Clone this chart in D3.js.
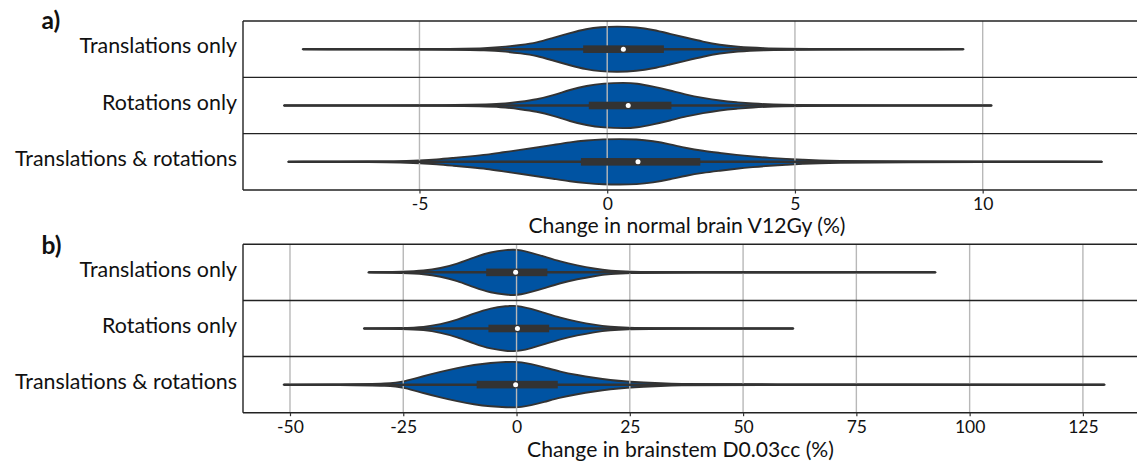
<!DOCTYPE html>
<html><head><meta charset="utf-8">
<script src="https://cdn.jsdelivr.net/npm/d3@7"></script>
<style>body{margin:0;background:#fff} svg{display:block}</style>
</head><body>
<svg id="c" width="1137" height="464"></svg>
<script>
// ---------- DATA ----------
const categories = ["Translations only", "Rotations only", "Translations & rotations"];

// Panel a) change in normal brain V12Gy (%)
const brainTicks = [-5, 0, 5, 10];
const brainTickLabels = ["-5", "0", "5", "10"];
const brainMin = [-8.11, -8.61, -8.50];
const brainQ1 = [-0.64, -0.49, -0.70];
const brainMedian = [0.43, 0.56, 0.82];
const brainQ3 = [1.51, 1.71, 2.48];
const brainMax = [9.49, 10.24, 13.18];
// kernel-density outlines (value, relative density)
const brainTransPos = [-8.11, -4.18, -3.21, -2.68, -2.32, -1.88, -1.44, -0.99, -0.55, -0.19, 0.28, 0.78, 1.22, 1.67, 2.11, 2.55, 3.00, 3.44, 4.14, 5.10, 9.49];
const brainTransDens = [0, 0.01, 0.04, 0.11, 0.18, 0.28, 0.50, 0.71, 0.89, 0.97, 1.00, 0.96, 0.85, 0.67, 0.50, 0.33, 0.18, 0.10, 0.04, 0.01, 0];
const brainRotPos = [-8.61, -3.65, -2.77, -2.32, -1.88, -1.44, -0.99, -0.55, -0.11, 0.47, 0.78, 1.22, 1.67, 2.11, 2.55, 3.00, 3.44, 3.88, 4.33, 5.39, 10.24];
const brainRotDens = [0, 0.01, 0.07, 0.16, 0.26, 0.44, 0.69, 0.87, 0.97, 1.00, 0.97, 0.83, 0.66, 0.47, 0.33, 0.21, 0.14, 0.09, 0.04, 0.01, 0];
const brainBothPos = [-8.50, -6.05, -5.51, -4.98, -4.54, -4.10, -3.65, -3.21, -2.77, -2.32, -1.88, -1.44, -0.99, -0.55, -0.11, 0.34, 0.78, 1.22, 1.67, 2.11, 2.55, 3.00, 3.44, 3.88, 4.33, 4.77, 5.21, 5.65, 6.10, 7.25, 13.18];
const brainBothDens = [0, 0.01, 0.03, 0.06, 0.10, 0.17, 0.24, 0.31, 0.42, 0.52, 0.63, 0.74, 0.86, 0.94, 0.99, 1.00, 0.99, 0.91, 0.77, 0.60, 0.48, 0.39, 0.30, 0.23, 0.17, 0.13, 0.09, 0.06, 0.04, 0.015, 0];

// Panel b) change in brainstem D0.03cc (%)
const stemTicks = [-50, -25, 0, 25, 50, 75, 100, 125];
const stemTickLabels = ["-50", "-25", "0", "25", "50", "75", "100", "125"];
const stemMin = [-32.7, -33.7, -51.4];
const stemQ1 = [-6.7, -6.2, -8.8];
const stemMedian = [-0.2, 0.2, -0.2];
const stemQ3 = [6.8, 7.2, 9.1];
const stemMax = [92.5, 61.1, 129.8];
const stemTransPos = [-32.7, -24.9, -20.4, -16.8, -13.1, -9.4, -5.7, -2.05, -0.7, 0.9, 3.1, 6.0, 9.7, 13.4, 17.1, 20.7, 25.1, 31.8, 92.5];
const stemTransDens = [0, 0.03, 0.07, 0.18, 0.37, 0.66, 0.90, 0.99, 1.00, 0.98, 0.87, 0.70, 0.47, 0.30, 0.16, 0.07, 0.03, 0.01, 0];
const stemRotPos = [-33.7, -24.9, -20.4, -16.8, -13.1, -9.4, -5.7, -2.05, -0.7, 0.9, 3.1, 6.0, 9.7, 13.4, 17.1, 20.7, 24.4, 29.6, 61.1];
const stemRotDens = [0, 0.02, 0.06, 0.18, 0.37, 0.66, 0.90, 0.99, 1.00, 0.98, 0.87, 0.70, 0.47, 0.30, 0.16, 0.07, 0.03, 0.01, 0];
const stemBothPos = [-51.4, -38.8, -27.8, -24.9, -20.4, -16.8, -13.1, -9.4, -5.7, -2.05, -0.2, 0.9, 3.1, 6.0, 9.7, 13.4, 17.1, 20.7, 24.4, 28.1, 31.8, 35.5, 45.0, 129.8];
const stemBothDens = [0, 0.01, 0.04, 0.13, 0.38, 0.56, 0.73, 0.87, 0.96, 1.00, 1.00, 0.99, 0.91, 0.77, 0.56, 0.42, 0.30, 0.20, 0.13, 0.09, 0.06, 0.03, 0.01, 0];

// ---------- DRAWING ----------
const FONT = "Lato, 'Open Sans', sans-serif";
const svg = d3.select("#c");

function fit(text, target, weight) {
  const t = svg.append("text").attr("font-family", FONT).attr("font-size", 100)
    .attr("font-weight", weight || 400).text(text);
  const w = t.node().getComputedTextLength();
  t.remove();
  return 100 * target / w;
}
const catSize = fit("Translations & rotations", 222);
const titleSize = fit("Change in brainstem D0.03cc (%)", 307);
const tickSize = fit("125", 30.5);
const tagSize = fit("b)", 20, 700);

const panels = [
  {
    tag: "a)", tagY: 29.3, top: 21, bottom: 190, domain: [-9.70, 14.19],
    ticks: brainTicks, tickLabels: brainTickLabels, tickY: 19.5,
    title: "Change in normal brain V12Gy (%)", titleX: 687, titleY: 233,
    min: brainMin, q1: brainQ1, med: brainMedian, q3: brainQ3, max: brainMax,
    pos: [brainTransPos, brainRotPos, brainBothPos],
    dens: [brainTransDens, brainRotDens, brainBothDens]
  },
  {
    tag: "b)", tagY: 254, top: 244.3, bottom: 412.7, domain: [-60.37, 137.6],
    ticks: stemTicks, tickLabels: stemTickLabels, tickY: 20,
    title: "Change in brainstem D0.03cc (%)", titleX: 680.5, titleY: 456.5,
    min: stemMin, q1: stemQ1, med: stemMedian, q3: stemQ3, max: stemMax,
    pos: [stemTransPos, stemRotPos, stemBothPos],
    dens: [stemTransDens, stemRotDens, stemBothDens]
  }
];

const LEFT = 243, RIGHT = 1140;
const BLUE = "#0053a2", DARK = "#333333";

panels.forEach(p => {
  const g = svg.append("g");
  const x = d3.scaleLinear().domain(p.domain).range([LEFT, RIGHT]);
  const y = d3.scaleBand().domain(categories).range([p.top, p.bottom]).padding(0);
  const bw = y.bandwidth();
  const w = d3.scaleLinear().domain([0, 1]).range([0, bw * 0.405]);

  // violin bodies
  categories.forEach((c, i) => {
    const cy = y(c) + bw / 2;
    const pts = p.pos[i].map((v, j) => [v, p.dens[i][j]]);
    const area = d3.area()
      .x(d => x(d[0])).y0(d => cy - w(d[1])).y1(d => cy + w(d[1]))
      .curve(d3.curveBasis);
    g.append("path").attr("d", area(pts))
      .attr("fill", BLUE).attr("stroke", DARK).attr("stroke-width", 1.9)
      .attr("stroke-linejoin", "round");
  });

  // gridlines
  g.append("g").selectAll("line").data(p.ticks).join("line")
    .attr("x1", d => x(d)).attr("x2", d => x(d))
    .attr("y1", p.top).attr("y2", p.bottom)
    .attr("stroke", "#b8b8b8").attr("stroke-width", 1.4);

  // inner boxes
  categories.forEach((c, i) => {
    const cy = y(c) + bw / 2;
    g.append("line").attr("x1", x(p.min[i])).attr("x2", x(p.max[i]))
      .attr("y1", cy).attr("y2", cy).attr("stroke", DARK).attr("stroke-width", 2.5);
    g.append("rect").attr("x", x(p.q1[i])).attr("width", x(p.q3[i]) - x(p.q1[i]))
      .attr("y", cy - 3.8).attr("height", 7.6).attr("fill", DARK);
    g.append("circle").attr("cx", x(p.med[i])).attr("cy", cy).attr("r", 2.5).attr("fill", "#fff");
  });

  // frames
  const edges = [p.top, ...categories.slice(1).map(c => y(c)), p.bottom];
  g.append("g").selectAll("line").data(edges).join("line")
    .attr("x1", LEFT).attr("x2", RIGHT).attr("y1", d => d).attr("y2", d => d)
    .attr("stroke", "#222").attr("stroke-width", 1.4);
  g.append("line").attr("x1", LEFT).attr("x2", LEFT).attr("y1", p.top).attr("y2", p.bottom)
    .attr("stroke", "#222").attr("stroke-width", 1.4);

  // category labels
  categories.forEach(c => {
    g.append("text").attr("x", 237).attr("y", y(c) + bw / 2 + 4.3)
      .attr("text-anchor", "end").attr("font-family", FONT).attr("font-size", catSize)
      .attr("fill", "#111").text(c);
  });

  // bottom axis
  const axis = d3.axisBottom(x).tickValues(p.ticks).tickSize(3.5)
    .tickFormat((d, i) => p.tickLabels[i]);
  const ag = g.append("g").attr("transform", `translate(0,${p.bottom})`).call(axis);
  ag.select(".domain").remove();
  ag.selectAll(".tick line").attr("stroke", DARK).attr("stroke-width", 1.2);
  ag.selectAll(".tick text").attr("font-family", FONT).attr("font-size", tickSize)
    .attr("fill", "#111").attr("dy", null).attr("y", p.tickY).attr("dominant-baseline", "alphabetic");

  g.append("text").attr("x", p.titleX).attr("y", p.titleY).attr("text-anchor", "middle")
    .attr("font-family", FONT).attr("font-size", titleSize).attr("fill", "#111").text(p.title);

  g.append("text").attr("x", 41.5).attr("y", p.tagY).attr("font-family", FONT)
    .attr("font-weight", 700).attr("font-size", tagSize).attr("fill", "#111").text(p.tag);
});
</script>
</body></html>
